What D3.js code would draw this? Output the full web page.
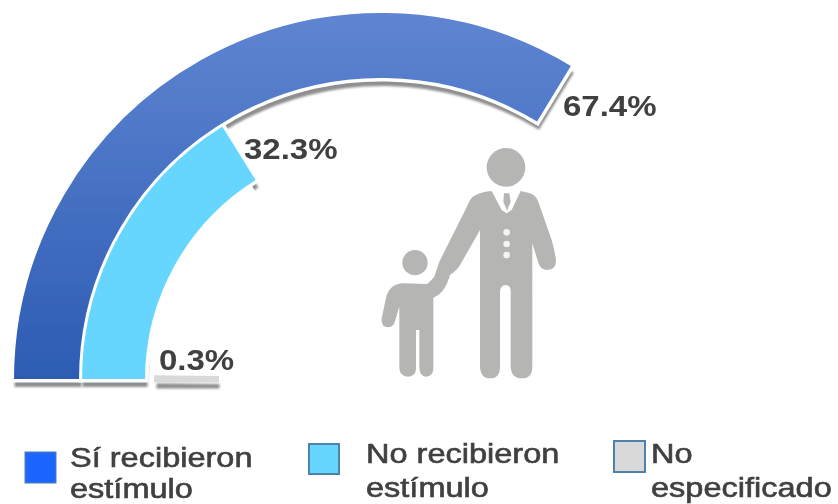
<!DOCTYPE html>
<html><head><meta charset="utf-8">
<script src="https://cdn.jsdelivr.net/npm/d3@7"></script>
<style>
html,body{margin:0;padding:0;background:#fff}
svg{display:block}
text{font-family:"Liberation Sans",Arial,sans-serif;fill:#404040}
</style></head><body>
<svg id="c" width="838" height="504"></svg>
<script>
const categories = ["Sí recibieron estímulo","No recibieron estímulo","No especificado"];
const values = [67.4,32.3,0.3];
const valueLabels = ["67.4%","32.3%","0.3%"];
const legendLines = [["Sí recibieron","estímulo"],["No recibieron","estímulo"],["No","especificado"]];
const legendColors = ["#1a66ff","#66d6ff","#d9d9d9"];

const W=838,H=504,cx=381,cy=380;
const ringInner=[301,235,164.5], ringOuter=[368,300,224.5];
const svg=d3.select("#c");
const defs=svg.append("defs");
const grad=defs.append("linearGradient").attr("id","blueG").attr("gradientUnits","userSpaceOnUse")
  .attr("x1",0).attr("x2",0).attr("y1",0).attr("y2",-368);
grad.append("stop").attr("offset",0).attr("stop-color","#2c5cb3");
grad.append("stop").attr("offset",1).attr("stop-color","#5f85d2");
const sh=defs.append("filter").attr("id","sh").attr("filterUnits","userSpaceOnUse")
  .attr("x",-381).attr("y",-380).attr("width",838).attr("height",504);
sh.append("feGaussianBlur").attr("stdDeviation",1.2);
const soft=defs.append("filter").attr("id","soft").attr("filterUnits","userSpaceOnUse")
  .attr("x",0).attr("y",0).attr("width",W).attr("height",H);
soft.append("feGaussianBlur").attr("stdDeviation",.55);

const root=svg.append("g").attr("filter","url(#soft)");
root.append("rect").attr("width",W).attr("height",H).attr("fill","#fff");

const angle=d3.scaleLinear().domain([0,100]).range([-Math.PI/2,Math.PI/2]);
const arc=d3.arc();
const arcPath=(c,i)=>arc({innerRadius:ringInner[i],outerRadius:ringOuter[i],startAngle:angle(0),endAngle:angle(values[i])});
const fills=["url(#blueG)",legendColors[1],legendColors[2]];
const strokes=["#fff","#fff",legendColors[2]];

const shadow=root.append("g").attr("transform",`translate(${cx+1.5},${cy+7})`);
shadow.selectAll("path").data(categories).join("path")
  .attr("d",arcPath).attr("fill","#8f8f8f").attr("stroke","#8f8f8f").attr("stroke-width",(c,i)=>i==2?3:0)
  .attr("filter","url(#sh)");
const halo=root.append("g").attr("transform",`translate(${cx},${cy})`);
halo.selectAll("path").data(categories.slice(0,2)).join("path")
  .attr("d",arcPath).attr("fill","#fff").attr("stroke","#fff").attr("stroke-width",5);
// the reference shows no shadow along the inner edge of the light ring
halo.append("path").attr("fill","#fff")
  .attr("d",arc({innerRadius:222,outerRadius:236,startAngle:angle(2),endAngle:angle(values[1]-1)}));
const g=root.append("g").attr("transform",`translate(${cx},${cy})`);
g.selectAll("path").data(categories).join("path")
  .attr("d",arcPath)
  .attr("fill",(c,i)=>fills[i]).attr("stroke",(c,i)=>strokes[i]).attr("stroke-width",(c,i)=>i==2?5:2);

// value labels
const labelPos=[[563,116],[244,159],[159,370]];
root.selectAll("text.v").data(valueLabels).join("text").attr("class","v")
  .attr("transform",(d,i)=>`translate(${labelPos[i][0]},${labelPos[i][1]}) scale(1.1,1)`)
  .attr("font-size",30).attr("font-weight","bold").text(d=>d);

// figure
const ic=root.append("g").attr("transform","translate(370,130) scale(0.3333)");
ic.append("path").attr("fill","#b5b5b3").attr("d","M365 183 Q335 185 312 198 Q300 205 290 232 L208 395 Q200 420 192 442 L172 462 L95 460 Q60 465 50 495 L35 565 Q32 592 55 592 Q72 592 76 570 L88 530 L88 715 Q90 740 114 740 Q138 740 138 715 L138 600 L148 600 L148 715 Q150 740 168 740 Q190 740 190 715 L190 503 Q225 490 240 435 Q262 420 272 402 L330 300 L330 710 Q332 745 360 745 Q390 745 390 710 L390 485 Q392 465 406 465 Q422 465 422 485 L422 710 Q424 745 455 745 Q487 745 487 710 L487 340 L505 398 Q512 420 532 420 Q560 418 558 390 Q555 365 545 330 L505 215 Q497 195 480 190 L452 183 L425 240 L410 250 L395 240 Z");
ic.append("path").attr("fill","#b5b5b3").attr("d","M402 190 L418 190 L422 215 L411 242 L400 215 Z");
[[408,112,58],[135,398,38]].forEach(c=>ic.append("circle").attr("cx",c[0]).attr("cy",c[1]).attr("r",c[2]).attr("fill","#b5b5b3"));
[307,342,375].forEach(y=>ic.append("circle").attr("cx",410).attr("cy",y).attr("r",10).attr("fill","#f4f4f4"));

// legend
const boxes=[[25,452,31,31],[309,444,30,30],[614,441,31,31]];
const legendText=[[70,467,70,498],[366,463,366,497],[651,463,651,497]];
legendColors.forEach((col,i)=>{
  const b=boxes[i];
  root.append("rect").attr("x",b[0]).attr("y",b[1]).attr("width",b[2]).attr("height",b[3])
    .attr("fill",col).attr("stroke","#4d82ad").attr("stroke-width",i==0?1:2);
  const t=legendText[i];
  [0,1].forEach(k=>root.append("text").attr("class","l")
    .attr("transform",`translate(${t[k*2]},${t[k*2+1]}) scale(1.205,1)`)
    .attr("font-size",27).attr("stroke","#404040").attr("stroke-width",.6).text(legendLines[i][k]));
});
</script></body></html>
